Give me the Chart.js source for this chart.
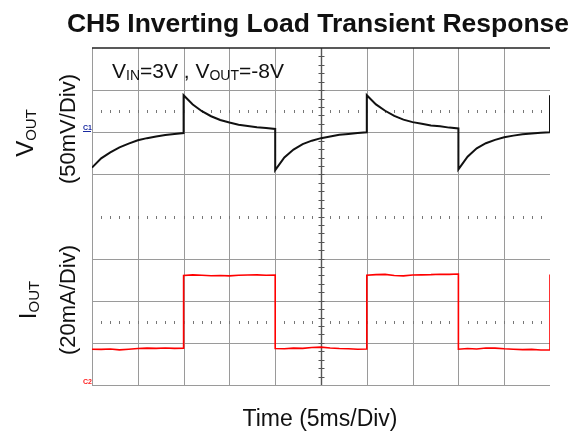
<!DOCTYPE html>
<html lang="en">
<head>
<meta charset="UTF-8">
<title>CH5 Inverting Load Transient Response</title>
<script src="https://cdn.jsdelivr.net/npm/chart.js"></script>
<style>
  body { margin: 0; background: #fff; }
  #wrap { width: 574px; height: 432px; }
</style>
</head>
<body>
<div id="wrap"><canvas id="scope" width="574" height="432"></canvas></div>
<script>
// time base 5 ms/div, 10 divisions
const vTime = [0,1,2,3,4,5,6,7,8,9,10, 10,11,12,13,14,15,16,17,18,19,20,
               20,21,22,23,24,25,26,27,28,29,30, 30,31,32,33,34,35,36,37,38,39,40,
               40,41,42,43,44,45,46,47,48,49,50, 50];
// VOUT ripple in mV, relative to the C1 marker (50 mV/div)
const vOut = [-42,-31,-24,-18,-13.5,-9.5,-7,-5,-3.2,-2,-1,
              44,33,25,19,14.5,11.5,9,7.5,6,5,4,
              -45,-30,-20.5,-14,-10,-7,-5,-3,-2,-1,0,
              44,33,25.5,19.5,15,12,10,8,7,5.5,4.5,
              -44,-29,-19,-13,-9,-6,-4,-2.5,-1.5,-0.5,0,
              44];

const iTime = vTime;
// IOUT in mA above the C2 marker (20 mA/div)
const iOut = [17.0,16.9,17.1,16.7,17.0,17.3,17.5,17.4,17.6,17.4,17.5,
              52.0,52.3,52.1,51.9,52.0,51.8,52.1,52.2,52.3,52.1,52.2,
              17.3,17.2,17.5,17.4,17.8,18.0,17.6,17.3,17.2,17.0,17.1,
              52.1,52.4,52.5,52.0,51.8,52.2,52.3,52.4,52.6,52.5,52.7,
              17.0,17.3,17.1,17.6,17.5,17.2,17.0,16.8,16.9,16.6,16.7,
              52.5];

const FONT = '"Liberation Sans", Arial, sans-serif';

// graticule: 10 x 8 divisions, center axes with minor ticks
const scopeGrid = {
  id: 'scopeGrid',
  beforeDatasetsDraw(chart) {
    const ctx = chart.ctx;
    const a = chart.chartArea;
    const x = chart.scales.x, yI = chart.scales.yI;
    const px = v => Math.round(x.getPixelForValue(v)) + 0.5;
    const py = v => Math.round(yI.getPixelForValue(v)) + 0.5;
    ctx.save();
    ctx.lineWidth = 1;
    ctx.strokeStyle = '#9a9a9a';
    ctx.beginPath();
    for (let t = 5; t < 50; t += 5) {
      if (t === 25) continue;
      ctx.moveTo(px(t), a.top); ctx.lineTo(px(t), a.bottom);
    }
    [20, 40, 60, 100, 120, 140].forEach(m => {
      ctx.moveTo(a.left, py(m)); ctx.lineTo(a.right, py(m));
    });
    ctx.moveTo(px(0), a.top); ctx.lineTo(px(0), a.bottom);
    ctx.moveTo(a.left, py(0)); ctx.lineTo(a.right, py(0));
    ctx.stroke();

    // dotted rows
    ctx.strokeStyle = '#777';
    ctx.beginPath();
    [80, 130, 30].forEach(m => {
      for (let t = 1; t < 50; t++) {
        ctx.moveTo(px(t), py(m) - 1.5); ctx.lineTo(px(t), py(m) + 1.5);
      }
    });
    ctx.stroke();

    // center vertical axis with minor ticks
    ctx.strokeStyle = '#555';
    ctx.lineWidth = 1.4;
    ctx.beginPath();
    ctx.moveTo(px(25), a.top); ctx.lineTo(px(25), a.bottom);
    ctx.stroke();
    ctx.lineWidth = 1;
    ctx.beginPath();
    for (let m = 4; m < 160; m += 4) {
      ctx.moveTo(px(25) - 3, py(m)); ctx.lineTo(px(25) + 3, py(m));
    }
    ctx.stroke();

    // top frame
    ctx.strokeStyle = '#222';
    ctx.lineWidth = 1.5;
    ctx.beginPath();
    ctx.moveTo(a.left, a.top); ctx.lineTo(a.right, a.top);
    ctx.stroke();
    ctx.restore();
  }
};

// draws a run of text pieces [text, size, baseline shift]
function drawRun(ctx, parts, x, y, align) {
  let w = 0;
  parts.forEach(p => { ctx.font = p[1] + 'px ' + FONT; w += ctx.measureText(p[0]).width; });
  let cx = align === 'center' ? x - w / 2 : x;
  ctx.textAlign = 'left';
  parts.forEach(p => {
    ctx.font = p[1] + 'px ' + FONT;
    ctx.fillText(p[0], cx, y + (p[2] || 0));
    cx += ctx.measureText(p[0]).width;
  });
}

const scopeText = {
  id: 'scopeText',
  afterDraw(chart) {
    const ctx = chart.ctx;
    const yV = chart.scales.yV, yI = chart.scales.yI;
    ctx.save();
    ctx.fillStyle = '#111';
    ctx.textBaseline = 'alphabetic';

    ctx.font = 'bold 26.5px ' + FONT;
    ctx.textAlign = 'center';
    ctx.fillText('CH5 Inverting Load Transient Response', 318, 32);

    drawRun(ctx, [['V', 21], ['IN', 14, 2], ['=3V , V', 21], ['OUT', 14, 2], ['=-8V', 21]], 112, 78, 'left');

    ctx.font = '23px ' + FONT;
    ctx.textAlign = 'center';
    ctx.fillText('Time (5ms/Div)', 320, 426);

    // rotated channel labels
    ctx.save();
    ctx.translate(33, 133);
    ctx.rotate(-Math.PI / 2);
    drawRun(ctx, [['V', 24], ['OUT', 15, 3]], 0, 0, 'center');
    ctx.restore();

    ctx.save();
    ctx.translate(75, 129);
    ctx.rotate(-Math.PI / 2);
    ctx.font = '22px ' + FONT;
    ctx.textAlign = 'center';
    ctx.fillText('(50mV/Div)', 0, 0);
    ctx.restore();

    ctx.save();
    ctx.translate(36, 300);
    ctx.rotate(-Math.PI / 2);
    drawRun(ctx, [['I', 24], ['OUT', 15, 3]], 0, 0, 'center');
    ctx.restore();

    ctx.save();
    ctx.translate(75, 300);
    ctx.rotate(-Math.PI / 2);
    ctx.font = '22px ' + FONT;
    ctx.textAlign = 'center';
    ctx.fillText('(20mA/Div)', 0, 0);
    ctx.restore();

    // channel ground markers
    ctx.font = 'bold 7px ' + FONT;
    ctx.textAlign = 'left';
    ctx.fillStyle = '#1a2aa0';
    const c1 = Math.round(yV.getPixelForValue(0));
    ctx.fillText('C1', 83, c1 - 2);
    ctx.fillRect(83, c1 - 1, 8, 1);
    ctx.fillStyle = '#ff2020';
    const c2 = Math.round(yI.getPixelForValue(0));
    ctx.fillText('C2', 83, c2 - 1);
    ctx.restore();
  }
};

const ctx = document.getElementById('scope').getContext('2d');
new Chart(ctx, {
  type: 'scatter',
  data: {
    datasets: [
      {
        data: vTime.map((t, i) => ({ x: t, y: vOut[i] })),
        yAxisID: 'yV',
        showLine: true,
        borderColor: '#111',
        borderWidth: 2,
        pointRadius: 0
      },
      {
        data: iTime.map((t, i) => ({ x: t, y: iOut[i] })),
        yAxisID: 'yI',
        showLine: true,
        borderColor: '#ff0000',
        borderWidth: 1.6,
        pointRadius: 0
      }
    ]
  },
  options: {
    responsive: false,
    animation: false,
    layout: { padding: { left: 92, right: 24, top: 48, bottom: 47 } },
    plugins: { legend: { display: false }, tooltip: { enabled: false } },
    scales: {
      x: { type: 'linear', min: 0, max: 50, display: false },
      yV: { min: -300, max: 100, display: false },
      yI: { min: 0, max: 160, display: false }
    }
  },
  plugins: [scopeGrid, scopeText]
});
</script>
</body>
</html>
